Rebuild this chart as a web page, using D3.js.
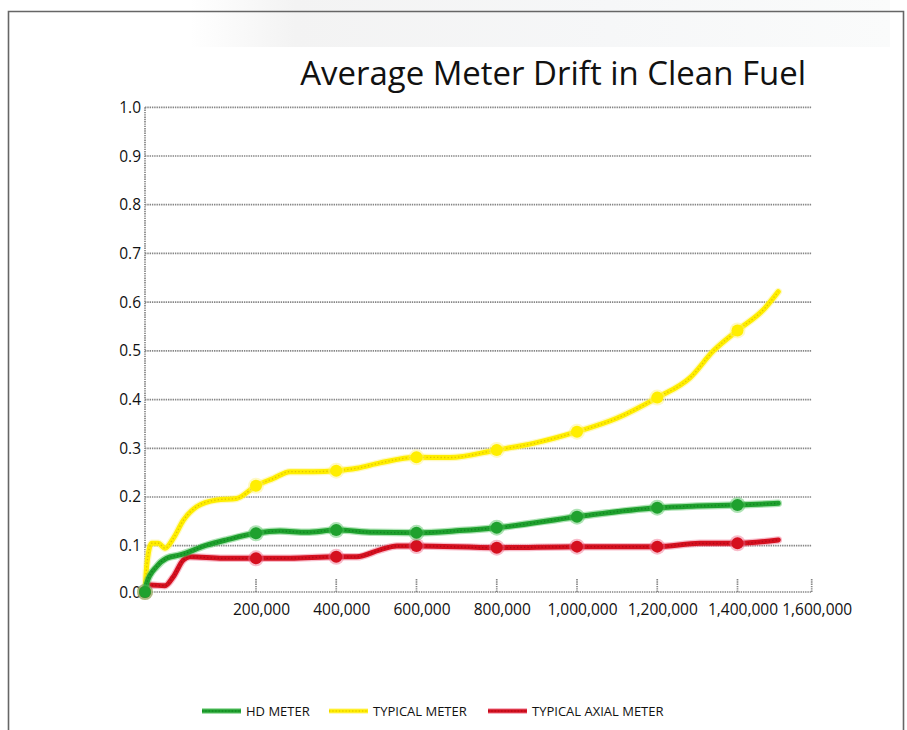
<!DOCTYPE html>
<html>
<head>
<meta charset="utf-8">
<script src="https://cdn.jsdelivr.net/npm/d3@7"></script>
<style>
  body { margin: 0; background: #fff; }
  text { font-family: "Open Sans", "Noto Sans", sans-serif; fill: #111; }
</style>
</head>
<body>
<script>
'use strict';
// values: [miles of fuel, drift %]
const hdMeter = [
  [0, 0], [3000, 0.019], [21000, 0.055], [39000, 0.073], [63000, 0.080],
  [111000, 0.101], [147000, 0.112], [200000, 0.1255], [260000, 0.130],
  [326000, 0.1275], [400000, 0.132], [493000, 0.1275], [600000, 0.1265],
  [708000, 0.131], [800000, 0.137], [1000000, 0.1596], [1200000, 0.178],
  [1298000, 0.1815], [1400000, 0.1836], [1510000, 0.187]
];
const typicalMeter = [
  [0, 0], [3000, 0.055], [12000, 0.105], [24000, 0.105], [36000, 0.0947],
  [51000, 0.115], [69000, 0.152], [93000, 0.180], [129000, 0.194],
  [165000, 0.197], [200000, 0.223], [243000, 0.238], [285000, 0.252],
  [343000, 0.252], [400000, 0.254], [451000, 0.259], [509000, 0.270],
  [600000, 0.2815], [683000, 0.281], [800000, 0.2966], [891000, 0.310],
  [1000000, 0.334], [1099000, 0.3616], [1200000, 0.404], [1282000, 0.445],
  [1340000, 0.5], [1400000, 0.542], [1473000, 0.587], [1510000, 0.6216]
];
const typicalAxialMeter = [
  [0, 0], [9000, 0.015], [36000, 0.0136], [51000, 0.033], [69000, 0.069],
  [81000, 0.076], [141000, 0.0727], [200000, 0.0727], [285000, 0.073],
  [400000, 0.076], [451000, 0.076], [509000, 0.091], [551000, 0.0994],
  [600000, 0.0994], [800000, 0.0957], [1000000, 0.098], [1200000, 0.098],
  [1306000, 0.1049], [1400000, 0.105], [1510000, 0.1119]
];
const seriesNames = ['HD METER', 'TYPICAL METER', 'TYPICAL AXIAL METER'];
const xTicks = [200000, 400000, 600000, 800000, 1000000, 1200000, 1400000, 1600000];
const yTicks = [0, 0.1, 0.2, 0.3, 0.4, 0.5, 0.6, 0.7, 0.8, 0.9, 1.0];
const titleText = 'Average Meter Drift in Clean Fuel';

const W = 907, H = 730;
const svg = d3.select('body').append('svg').attr('width', W).attr('height', H);

// faint background shading at the top
const defs = svg.append('defs');
const grad = defs.append('linearGradient').attr('id', 'topShade')
  .attr('x1', '0%').attr('x2', '100%');
grad.append('stop').attr('offset', '0%').attr('stop-color', '#fff');
grad.append('stop').attr('offset', '15%').attr('stop-color', '#f3f3f3');
grad.append('stop').attr('offset', '60%').attr('stop-color', '#f6f7f8');
grad.append('stop').attr('offset', '100%').attr('stop-color', '#fafbfb');
svg.append('rect').attr('x', 190).attr('y', 0).attr('width', 700).attr('height', 47)
  .attr('fill', 'url(#topShade)');

// frame
svg.append('path')
  .attr('d', 'M8.5,' + H + 'V11.5H903.5V' + H)
  .attr('fill', 'none').attr('stroke', '#666').attr('stroke-width', 1.6);

// scales (the chart's first interval is shorter on both axes)
const x = d3.scaleLinear().domain([0, 200000, 1400000, 1600000]).range([145, 256, 737.5, 811.7]);
const y = d3.scaleLinear().domain([0, 0.1, 1]).range([592, 545.7, 107.3]);

const gridStyle = g => g.attr('stroke', '#858585').attr('stroke-width', 1.7).attr('stroke-dasharray', '1.4,0.9');

// horizontal gridlines
svg.append('g').selectAll('line').data(yTicks).join('line')
  .attr('x1', x(0)).attr('x2', x(1600000))
  .attr('y1', d => y(d)).attr('y2', d => y(d))
  .call(gridStyle);

// y axis line
svg.append('line').attr('x1', x(0)).attr('x2', x(0)).attr('y1', y(1)).attr('y2', y(0)).call(gridStyle);

// x ticks
svg.append('g').selectAll('line').data(xTicks).join('line')
  .attr('x1', d => x(d)).attr('x2', d => x(d))
  .attr('y1', y(0) - 13).attr('y2', y(0))
  .call(gridStyle);

svg.append('g').selectAll('text').data(xTicks).join('text')
  .attr('x', d => x(d) + 5.5).attr('y', 615)
  .attr('text-anchor', 'middle').style('font-size', '15.5px')
  .text(d3.format(','));

svg.append('g').selectAll('text').data(yTicks).join('text')
  .attr('x', 141).attr('y', d => y(d) + 5.5)
  .attr('text-anchor', 'end').style('font-size', '15.5px')
  .text(d3.format('.1f'));

// title fitted to its width in the picture
const title = svg.append('text').attr('x', 806).attr('y', 85)
  .attr('text-anchor', 'end').style('font-size', '30px').text(titleText);
const tw = title.node().getComputedTextLength();
title.style('font-size', (30 * 506 / tw) + 'px');

const line = d3.line().x(d => x(d[0])).y(d => y(d[1])).curve(d3.curveMonotoneX);

const styles = [
  { data: hdMeter, glow: '#4ec15a', main: '#1fa12e', dots: '#0d7a1e' },
  { data: typicalMeter, glow: '#fff27a', main: '#ffee00', dots: '#d9b800' },
  { data: typicalAxialMeter, glow: '#f06a8a', main: '#d5101f', dots: '#a50618' }
];
// draw order: yellow, red, green on top at the start
const order = [1, 2, 0];
order.forEach(i => {
  const s = styles[i];
  const g = svg.append('g');
  g.append('path').datum(s.data).attr('d', line).attr('fill', 'none')
    .attr('stroke', s.glow).attr('stroke-width', 7.5).attr('stroke-opacity', 0.45)
    .attr('stroke-linecap', 'round');
  g.append('path').datum(s.data).attr('d', line).attr('fill', 'none')
    .attr('stroke', s.main).attr('stroke-width', 5).attr('stroke-linecap', 'round');
  g.append('path').datum(s.data).attr('d', line).attr('fill', 'none')
    .attr('stroke', s.dots).attr('stroke-width', 1.3).attr('stroke-dasharray', '1.3,2.2')
    .attr('stroke-opacity', 0.8);
  const marks = s.data.filter(d => d[0] % 200000 === 0);
  g.selectAll('circle.glow').data(marks).join('circle').attr('class', 'glow')
    .attr('cx', d => x(d[0])).attr('cy', d => y(d[1])).attr('r', 8)
    .attr('fill', s.glow).attr('fill-opacity', 0.45);
  g.selectAll('circle.mk').data(marks).join('circle').attr('class', 'mk')
    .attr('cx', d => x(d[0])).attr('cy', d => y(d[1])).attr('r', 6)
    .attr('fill', s.main);
});

// legend
const legendX = [202, 329, 488];
const legend = svg.append('g');
seriesNames.forEach((name, i) => {
  const s = styles[i];
  const gx = legendX[i];
  legend.append('line').attr('x1', gx).attr('x2', gx + 39).attr('y1', 711).attr('y2', 711)
    .attr('stroke', s.glow).attr('stroke-width', 6).attr('stroke-opacity', 0.5);
  legend.append('line').attr('x1', gx).attr('x2', gx + 39).attr('y1', 711).attr('y2', 711)
    .attr('stroke', s.main).attr('stroke-width', 3.5);
  legend.append('line').attr('x1', gx).attr('x2', gx + 39).attr('y1', 711).attr('y2', 711)
    .attr('stroke', s.dots).attr('stroke-width', 1).attr('stroke-dasharray', '1.3,2');
  legend.append('text').attr('x', gx + 44).attr('y', 715.5).style('font-size', '13px').text(name);
});
</script>
</body>
</html>
